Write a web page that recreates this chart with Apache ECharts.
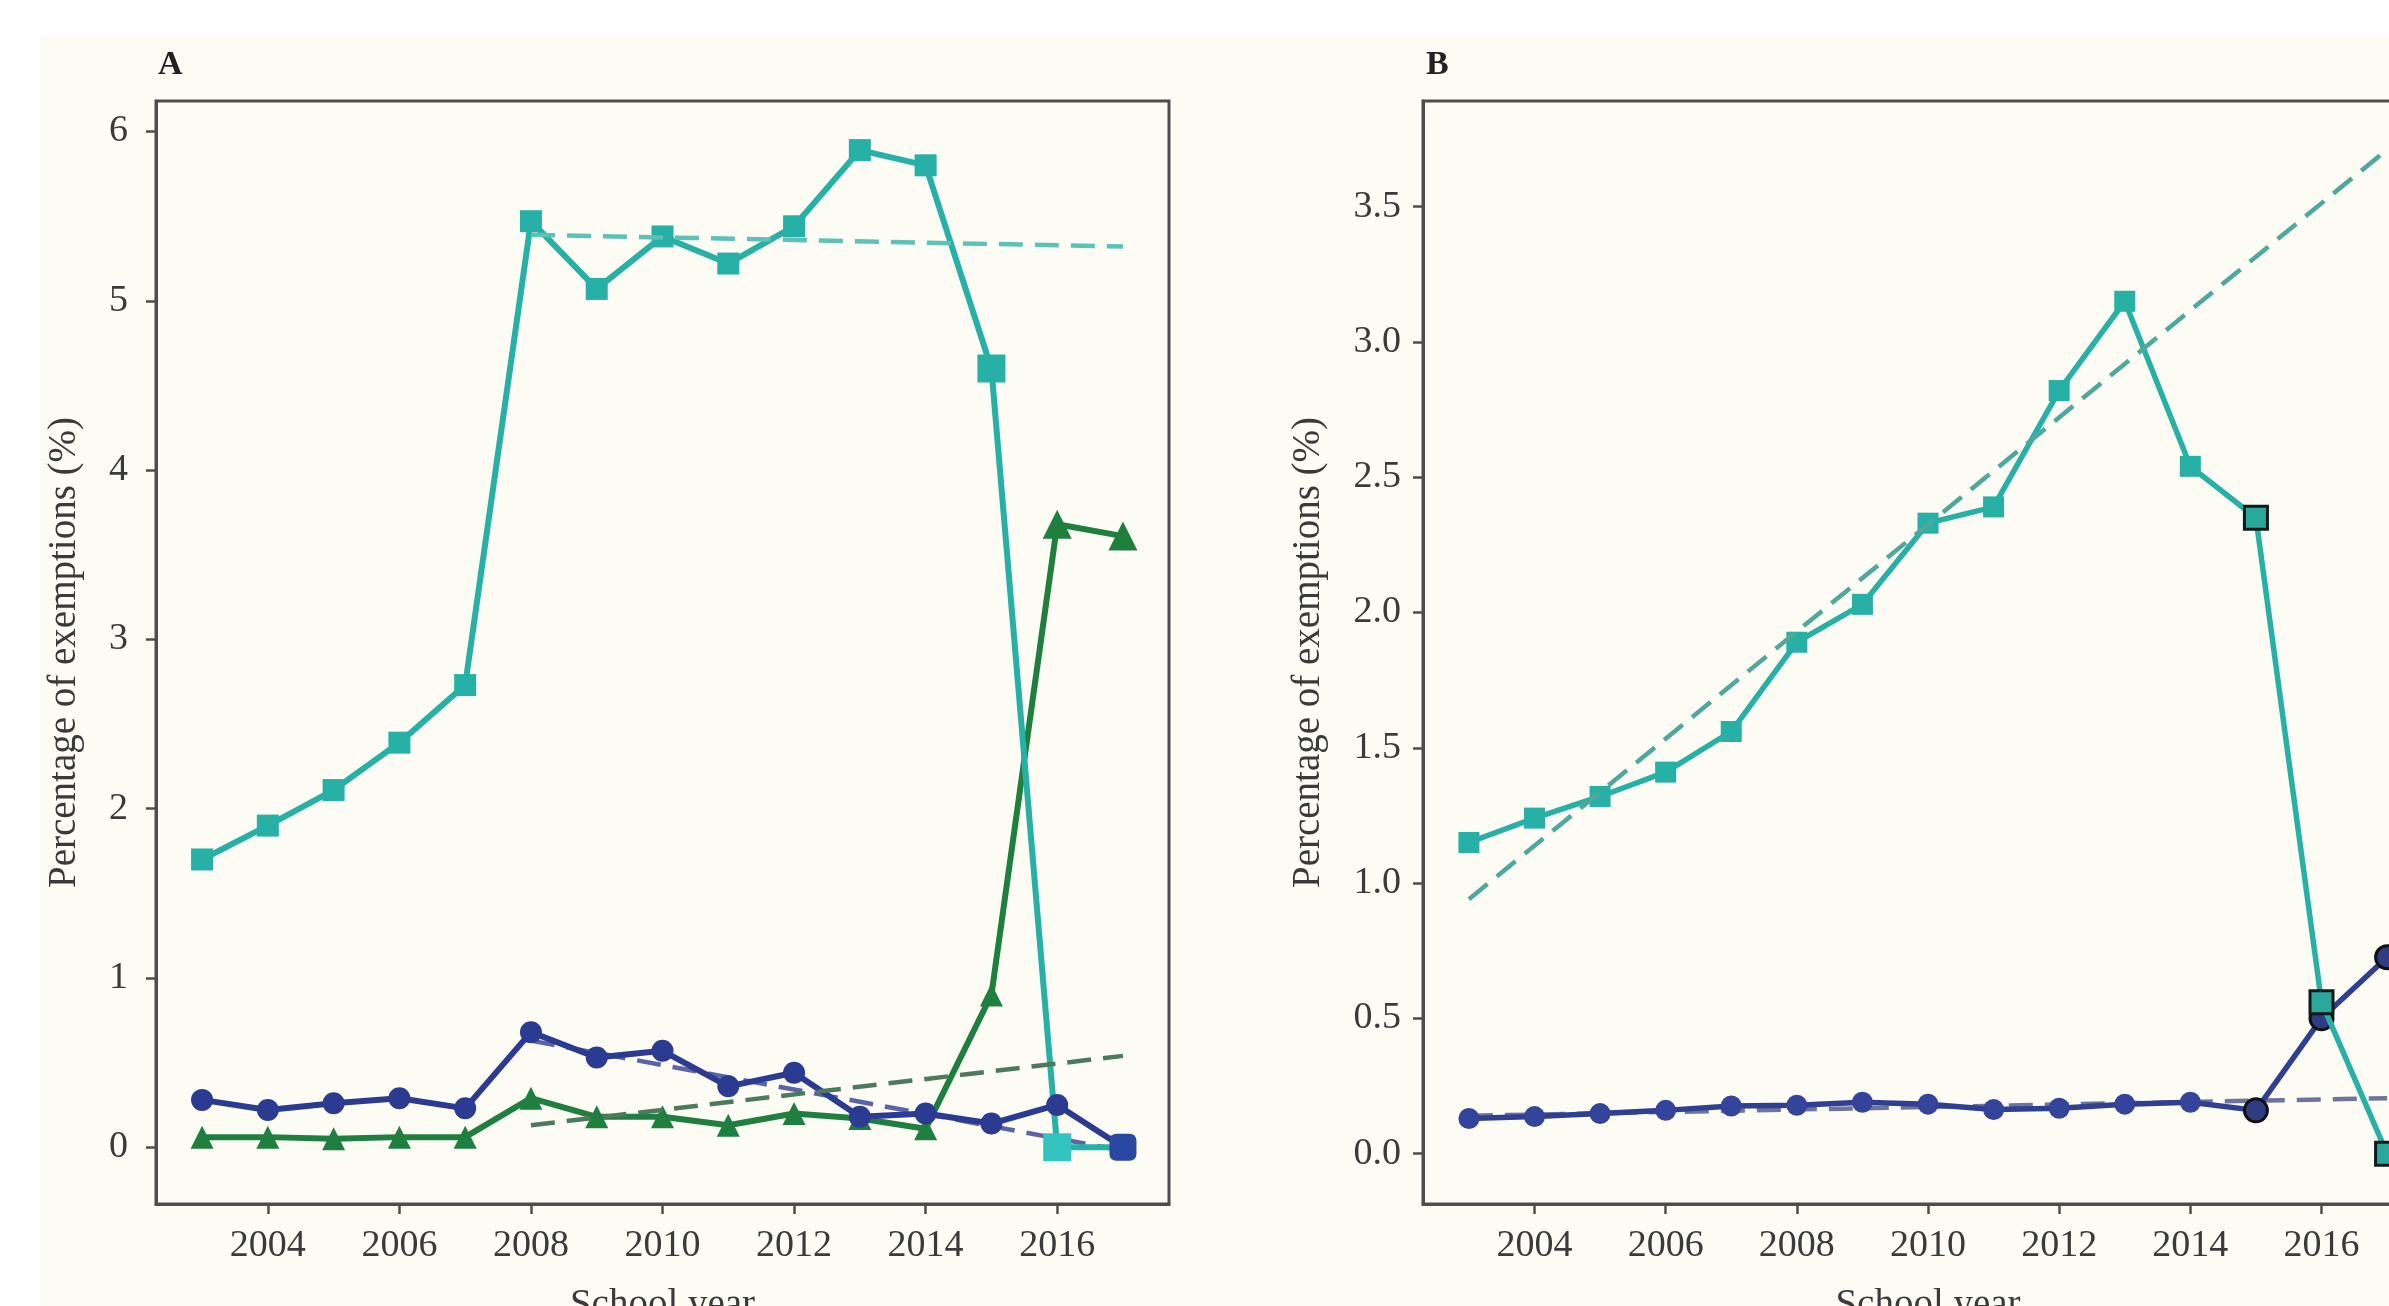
<!DOCTYPE html>
<html><head><meta charset="utf-8">
<script src="https://cdn.jsdelivr.net/npm/echarts@6/dist/echarts.min.js"></script>
<style>html,body{margin:0;padding:0;background:#fff}#c{width:2389px;height:1306px}</style>
</head><body><div id="c"></div>
<script>
// ---- data ----
const years = [2003,2004,2005,2006,2007,2008,2009,2010,2011,2012,2013,2014,2015,2016,2017];
const xTicks = [2004,2006,2008,2010,2012,2014,2016];
const yTicksA = [0,1,2,3,4,5,6];
const yTicksB = [0,0.5,1,1.5,2,2.5,3,3.5];

const tealA  = [1.70,1.90,2.11,2.39,2.73,5.47,5.07,5.38,5.22,5.44,5.89,5.80,4.60,0.00,0.00];
const blueA  = [0.28,0.22,0.26,0.29,0.23,0.68,0.53,0.57,0.36,0.44,0.18,0.20,0.14,0.25,0.00];
const greenA = [0.06,0.06,0.05,0.06,0.06,0.29,0.18,0.18,0.13,0.20,0.17,0.11,0.90,3.68,3.61];

const trendYearsA = [2008, 2017];
const tealTrendA  = [5.39, 5.32];
const blueTrendA  = [0.63, -0.02];
const greenTrendA = [0.13, 0.54];

const tealB = [1.15,1.24,1.32,1.41,1.56,1.89,2.03,2.33,2.39,2.82,3.15,2.54,2.35,0.56,0.00];
const blueB = [0.13,0.137,0.148,0.16,0.176,0.179,0.19,0.183,0.163,0.168,0.183,0.19,0.16,0.50,0.726];

const trendYearsB = [2003, 2017];
const tealTrendB  = [0.94, 3.71];
const blueTrendB  = [0.14, 0.205];

// ---- styles ----
const FONT = '"Liberation Serif", "Times New Roman", serif';
const TEAL = '#27b1a6', BLUE = '#2b3b92', GREEN = '#1f7f3f';
const FRAME = '#4d4d4d', TXT = '#3a3a3a';

function pts(xs, ys, styleFn) {
  return xs.map((x, i) => {
    const d = { value: [x, ys[i]] };
    if (styleFn) { const s = styleFn(i); if (s) Object.assign(d, s); }
    return d;
  });
}

function xAxis(gi) {
  return {
    type: 'value', gridIndex: gi, min: 2002.3, max: 2017.7,
    axisLine: { show: true, onZero: false, lineStyle: { color: FRAME, width: 3 } },
    axisTick: { show: true, length: 10, customValues: xTicks, lineStyle: { color: FRAME, width: 2.5 } },
    axisLabel: { customValues: xTicks, margin: 23, fontFamily: FONT, fontSize: 38, color: TXT,
                 formatter: v => String(v) },
    splitLine: { show: false },
    name: 'School year', nameLocation: 'middle', nameGap: 82,
    nameTextStyle: { fontFamily: FONT, fontSize: 39, color: TXT }
  };
}
function yAxis(gi, min, max, ticks, fmt, gap, margin) {
  return {
    type: 'value', gridIndex: gi, min: min, max: max,
    axisLine: { show: true, onZero: false, lineStyle: { color: FRAME, width: 3 } },
    axisTick: { show: true, length: 10, customValues: ticks, lineStyle: { color: FRAME, width: 2.5 } },
    axisLabel: { customValues: ticks, margin: margin, fontFamily: FONT, fontSize: 38, color: TXT, formatter: fmt },
    splitLine: { show: false },
    name: 'Percentage of exemptions (%)', nameLocation: 'middle', nameGap: gap,
    nameTextStyle: { fontFamily: FONT, fontSize: 39, color: TXT }
  };
}
function trend(gi, xs, ys, color, z) {
  return {
    type: 'line', xAxisIndex: gi, yAxisIndex: gi, data: pts(xs, ys), symbol: 'none',
    lineStyle: { color: color, width: 4.5, type: [24, 12] }, z: z, silent: true
  };
}

const chart = echarts.init(document.getElementById('c'), null, { renderer: 'canvas' });
chart.setOption({
  animation: false,
  backgroundColor: '#fcfcf5',
  grid: [
    { left: 156, top: 101, width: 1013, height: 1103, show: true, borderColor: FRAME, borderWidth: 3,
      backgroundColor: 'transparent', outerBoundsMode: 'none', containLabel: false },
    { left: 1423, top: 101, width: 1010, height: 1103, show: true, borderColor: FRAME, borderWidth: 3,
      backgroundColor: 'transparent', outerBoundsMode: 'none', containLabel: false }
  ],
  xAxis: [xAxis(0), xAxis(1)],
  yAxis: [
    yAxis(0, -0.335, 6.18, yTicksA, v => String(v), 72, 28),
    yAxis(1, -0.186, 3.89, yTicksB, v => v.toFixed(1), 95, 22)
  ],
  graphic: [
    { type: 'rect', shape: { x: 0, y: 0, width: 2389, height: 36 }, style: { fill: '#ffffff' }, z: 100 },
    { type: 'rect', shape: { x: 0, y: 0, width: 40, height: 1306 }, style: { fill: '#ffffff' }, z: 100 },
    { type: 'text', x: 158, y: 65, z: 100,
      style: { text: 'A', font: 'bold 34px "Liberation Serif", serif', fill: '#222', align: 'left', verticalAlign: 'middle', textAlign: 'left', textVerticalAlign: 'middle' } },
    { type: 'text', x: 1426, y: 65, z: 100,
      style: { text: 'B', font: 'bold 34px "Liberation Serif", serif', fill: '#222', align: 'left', verticalAlign: 'middle', textAlign: 'left', textVerticalAlign: 'middle' } }
  ],
  series: [
    // Panel A
    trend(0, trendYearsA, blueTrendA, '#5a64a6', 1),
    { type: 'line', xAxisIndex: 0, yAxisIndex: 0, z: 2, symbol: 'triangle', symbolSize: 23,
      data: pts(years, greenA, i => i >= 13 ? { symbolSize: 29 } : null),
      lineStyle: { color: GREEN, width: 6 }, itemStyle: { color: GREEN, borderWidth: 0 } },
    { type: 'line', xAxisIndex: 0, yAxisIndex: 0, z: 3, symbol: 'rect', symbolSize: 22,
      data: pts(years, tealA, i => i === 12 ? { symbolSize: 28 } :
                                   i === 13 ? { symbolSize: 28, itemStyle: { color: '#34c4c0' } } :
                                   i === 14 ? { symbolSize: 24 } : null),
      lineStyle: { color: TEAL, width: 6 }, itemStyle: { color: TEAL, borderWidth: 0 } },
    { type: 'line', xAxisIndex: 0, yAxisIndex: 0, z: 4, symbol: 'circle', symbolSize: 22,
      data: pts(years, blueA, i => i === 14 ? { symbol: 'roundRect', symbolSize: 27, itemStyle: { color: '#2a47a2' } } : null),
      lineStyle: { color: BLUE, width: 6 }, itemStyle: { color: BLUE, borderWidth: 0 } },
    trend(0, trendYearsA, tealTrendA, '#5cc1b6', 6),
    trend(0, trendYearsA, greenTrendA, '#4d7a5c', 6),
    // Panel B
    trend(1, trendYearsB, blueTrendB, '#6e74a0', 1),
    { type: 'line', xAxisIndex: 1, yAxisIndex: 1, z: 2, symbol: 'circle', symbolSize: 21,
      data: pts(years, blueB, i => i >= 12 ? { symbolSize: 23, itemStyle: { color: '#2f3c84', borderColor: '#111', borderWidth: 3 } } : null),
      lineStyle: { color: '#2f3f92', width: 5.5 }, itemStyle: { color: '#34449a', borderWidth: 0 } },
    { type: 'line', xAxisIndex: 1, yAxisIndex: 1, z: 3, symbol: 'rect', symbolSize: 21,
      data: pts(years, tealB, i => i >= 12 ? { symbolSize: 23, itemStyle: { color: '#2aa89c', borderColor: '#101a1a', borderWidth: 3 } } : null),
      lineStyle: { color: TEAL, width: 5.5 }, itemStyle: { color: TEAL, borderWidth: 0 } },
    trend(1, trendYearsB, tealTrendB, '#4ea89c', 6)
  ]
});
</script>
</body></html>
